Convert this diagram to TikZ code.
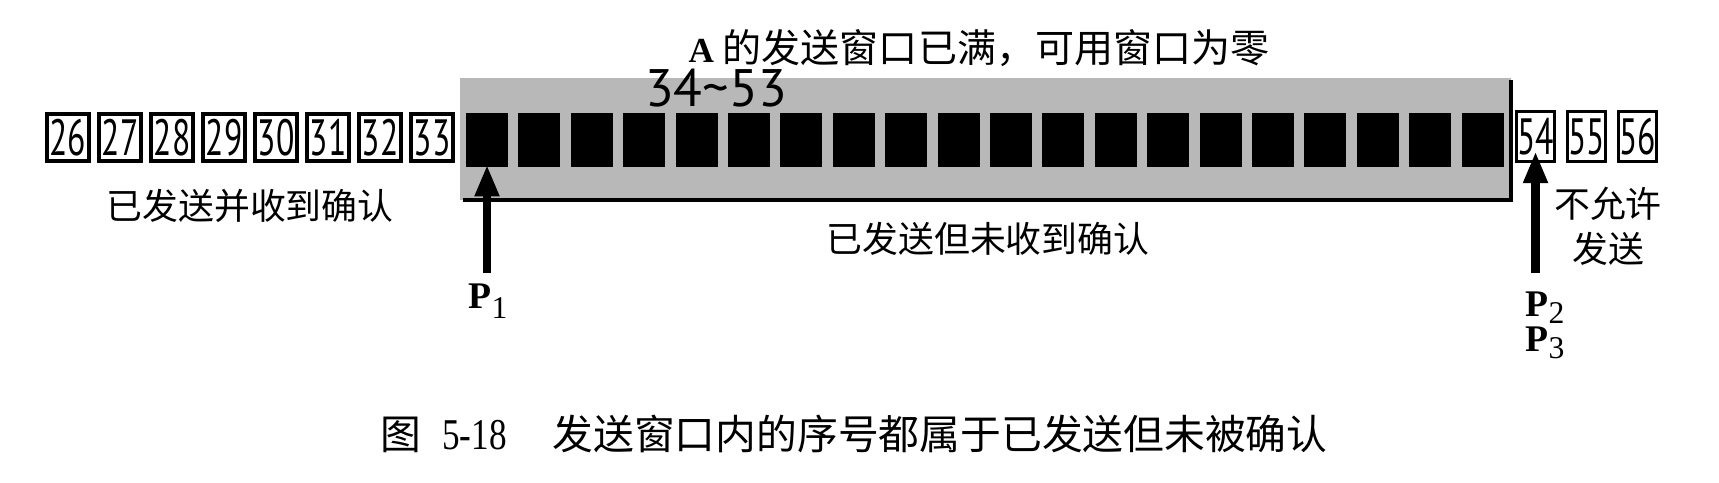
\documentclass[tikz,border=0pt]{standalone}
\usepackage{fontspec}
\setmainfont{Liberation Serif}
\newfontfamily\cjk{Noto Sans CJK SC}
\newfontfamily\boxfont[FakeStretch=0.66]{PT Sans}
\newfontfamily\rangefont{PT Sans}
\newfontfamily\capnum[FakeStretch=0.8]{Liberation Serif}
\usetikzlibrary{arrows.meta}

\begin{document}
\begin{tikzpicture}[x=0.01cm, y=-0.01cm,
    ackbox/.style={draw, line width=1.2pt, minimum width=0.42cm, minimum height=0.47cm,
      inner sep=0pt, font=\boxfont\fontsize{14.5}{14.5}\selectfont},
    sentbox/.style={fill=black, minimum width=0.42cm, minimum height=0.54cm, inner sep=0pt},
    waitbox/.style={draw, line width=0.8pt, minimum width=0.38cm, minimum height=0.50cm,
      inner sep=0pt, font=\boxfont\fontsize{14.5}{14.5}\selectfont},
    txt/.style={font=\cjk\fontsize{10.2}{12.8}\selectfont, inner sep=0pt, align=center},
    ptr/.style={-{Triangle[length=9pt,width=6.5pt]}, line width=2.4pt},
    plabel/.style={font=\fontsize{10.7}{8.2}\selectfont, inner sep=0pt, align=left}]
		\useasboundingbox (0,0) rectangle (1719,482);
		
		% Draw the send window (shaded, with shadow on right and bottom)
		\fill[black!28] (460,78) rectangle (1511,200);
		\draw[line width=1.4pt] (463,200) -- (1511,200) -- (1511,80);
		
		% Sent and acknowledged
		\foreach \n [count=\i from 0] in {26,...,33}
		\node[ackbox] (b\n) at ({68+52*\i},137.5) {\n};
		
		% Sent but not acknowledged
		\foreach \n [count=\i from 0] in {34,...,53}
		\node[sentbox] (b\n) at ({487+52.4*\i},140) {};
		
		% Not allowed to send
		\foreach \n [count=\i from 0] in {54,55,56}
		\node[waitbox] (b\n) at ({1535.5+51*\i},136.5) {\n};
		
		% Labels
		\node[txt, font=\cjk\fontsize{11.1}{13}\selectfont] (title) at (979,48)
		{{\rmfamily\bfseries\fontsize{10}{10}\selectfont A} 的发送窗口已满，可用窗口为零};
		\node[font=\rangefont\fontsize{15}{15}\selectfont, inner sep=0pt] (range) at (716,88) {34\textasciitilde 53};
		\node[txt] (acked) at (250,206) {已发送并收到确认};
		\node[txt] (unacked) at (988,239) {已发送但未收到确认};
		\node[txt] (notallowed) at (1608,226) {不允许\\发送};
		
		% Pointers P1, P2 and P3
		\node[plabel, anchor=north west] (p1) at (468,283)
		{\textbf{P}\raisebox{-3pt}{\fontsize{9}{9}\selectfont 1}};
		\node[plabel, anchor=north west] (p23) at (1525,291)
		{\textbf{P}\raisebox{-2pt}{\fontsize{9}{9}\selectfont 2}\\\textbf{P}\raisebox{-2pt}{\fontsize{9}{9}\selectfont 3}};
		\draw[ptr, shorten <=0.1cm, shorten >=-0.03cm] (b34.south |- p1.north) -- (b34.south);
		\draw[ptr, shorten <=0.18cm, shorten >=-0.115cm] (b54.south |- p23.north) -- (b54.south);
		
		% Caption
		\node[txt, font=\cjk\fontsize{11.6}{14}\selectfont] (caption) at (854,434)
		{图\hspace{6pt}{\capnum\fontsize{12.5}{14}\selectfont 5-18}\hspace{13pt}发送窗口内的序号都属于已发送但未被确认};
	\end{tikzpicture}
\end{document}
